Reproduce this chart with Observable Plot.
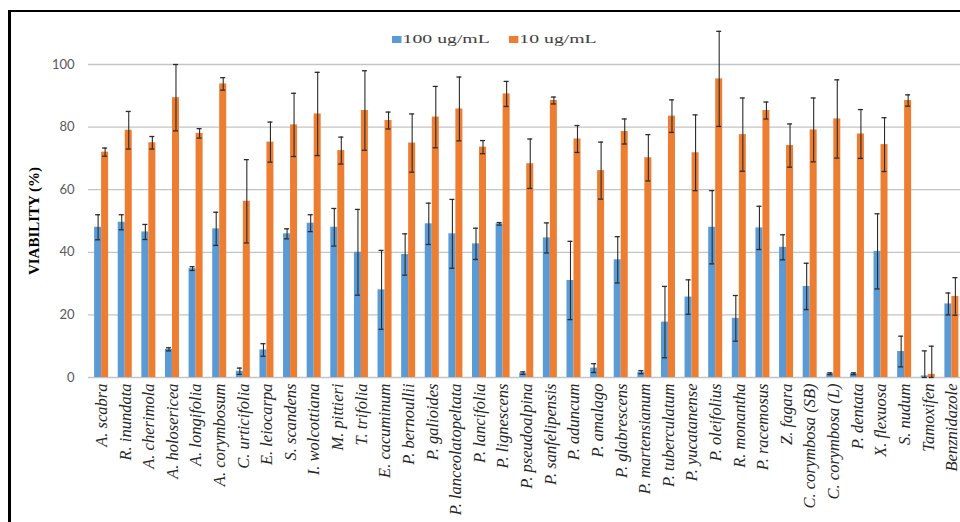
<!DOCTYPE html>
<html>
<head>
<meta charset="utf-8">
<script src="https://cdn.jsdelivr.net/npm/d3@7"></script>
<script src="https://cdn.jsdelivr.net/npm/@observablehq/plot@0.6"></script>
<style>
  body { margin: 0; background: #fff; }
  #wrap { position: relative; width: 960px; height: 522px; overflow: hidden; background: #fff; }
  #wrap svg { position: absolute; left: 0; top: 0; }
  #frame { position: absolute; left: 8px; top: 10px; width: 1000px; height: 600px;
           border-left: 3px solid #000; border-top: 2px solid #000; pointer-events: none; }
  #legend { position: absolute; left: 392px; top: 32px; display: flex; align-items: center;
            font: 12.5px "Liberation Serif", serif; color: #404040; white-space: nowrap;
            transform: scaleX(1.58); transform-origin: left center; }
  #legend .sw { display: inline-block; width: 5.7px; height: 6.5px; margin-right: 1px; }
  #legend .item { display: inline-flex; align-items: center; margin-right: 12px; }
  g[aria-label="y-axis tick label"] text { font: 13px Lato, sans-serif; fill: #595959; }
  g[aria-label="y-axis label"] text { font: bold 15px "Liberation Serif", serif; fill: #000; }
  g[aria-label="x-axis tick label"] text { font: italic 16.5px "Liberation Serif", serif; fill: #262626; }
</style>
</head>
<body>
<div id="wrap">
  <div id="legend">
    <span class="item"><span class="sw" style="background:#5b9bd5"></span><span id="l1"></span></span>
    <span class="item"><span class="sw" style="background:#ed7d31"></span><span id="l2"></span></span>
  </div>
</div>
<script>
const categories = [
  "A. scabra", "R. inundata", "A. cherimola", "A. holosericea", "A. longifolia",
  "A. corymbosum", "C. urticifolia", "E. leiocarpa", "S. scandens", "I. wolcottiana",
  "M. pittieri", "T. trifolia", "E. cacuminum", "P. bernoullii", "P. galioides",
  "P. lanceolatopeltata", "P. lancifolia", "P. lignescens", "P. pseudoalpina", "P. sanfelipensis",
  "P. aduncum", "P. amalago", "P. glabrescens", "P. martensianum", "P. tuberculatum",
  "P. yucatanense", "P. oleifolius", "R. monantha", "P. racemosus", "Z. fagara",
  "C. corymbosa (SB)", "C. corymbosa (L)", "P. dentata", "X. flexuosa", "S. nudum",
  "Tamoxifen", "Benznidazole"
];
const seriesNames = ["100 ug/mL", "10 ug/mL"];
// viability at 100 ug/mL and its error
const v100 = [48, 49.6, 46.5, 9, 34.8, 47.5, 2, 8.8, 45.9, 49.3,
              48, 40, 28, 39.3, 49.1, 45.9, 42.7, 49.1, 1.4, 44.6,
              31, 3, 37.6, 1.7, 17.7, 25.7, 48, 18.9, 47.8, 41.6,
              29.1, 1.2, 1.2, 40.3, 8.3, 0.5, 23.5];
const e100 = [4, 2.4, 2.4, 0.5, 0.6, 5.3, 1, 2, 1.6, 2.7,
              6, 13.7, 12.6, 6.6, 6.6, 11, 5, 0.4, 0.4, 4.8,
              12.5, 1.4, 7.4, 0.5, 11.4, 5.5, 11.7, 7.3, 6.9, 4,
              7.4, 0.3, 0.3, 12, 4.9, 8, 3.5];
// viability at 10 ug/mL and its error
const v10 = [72, 79, 75, 89.4, 78, 93.8, 56.3, 75.2, 80.7, 84.2,
             72.5, 85.3, 82.1, 74.9, 83.2, 85.8, 73.6, 90.6, 68.3, 88.5,
             76.2, 66.1, 78.6, 70.2, 83.5, 71.8, 95.4, 77.6, 85.3, 74.1,
             79.1, 82.6, 77.8, 74.4, 88.5, 1, 25.9];
const e10 = [1.3, 6, 2, 10.6, 1.5, 2, 13.3, 6.4, 10.1, 13.3,
             4.3, 12.7, 2.7, 9.3, 9.8, 10.2, 2.1, 4, 7.9, 1.1,
             4.3, 9.1, 4, 7.4, 5.2, 12.1, 15.2, 11.7, 2.7, 6.9,
             10.2, 12.5, 7.8, 8.6, 1.8, 9, 6];
const yTicks = [0, 20, 40, 60, 80, 100];

document.getElementById("l1").textContent = seriesNames[0];
document.getElementById("l2").textContent = seriesNames[1];

const blue = categories.map((c, i) => ({c, v: v100[i], lo: Math.max(0, v100[i] - e100[i]), hi: v100[i] + e100[i]}));
const orange = categories.map((c, i) => ({c, v: v10[i], lo: Math.max(0, v10[i] - e10[i]), hi: v10[i] + e10[i]}));

const errColor = "#2b2b2b";
const chart = Plot.plot({
  width: 960,
  height: 522,
  marginLeft: 88,
  marginRight: 0,
  marginTop: 64,
  marginBottom: 145,
  style: {background: "transparent"},
  x: {domain: categories, range: [84.5, 968], padding: 0.407, round: false, label: null},
  y: {domain: [0, 100], label: "VIABILITY (%)"},
  marks: [
    Plot.gridY(yTicks, {stroke: "#c4c4c4", strokeOpacity: 1, strokeWidth: 1.3}),
    Plot.barY(blue, {x: "c", y: "v", fill: "#5b9bd5", insetRight: 7}),
    Plot.barY(orange, {x: "c", y: "v", fill: "#ed7d31", insetLeft: 7}),
    Plot.ruleX(blue, {x: "c", y1: "lo", y2: "hi", dx: -3.5, stroke: errColor, strokeWidth: 1.1}),
    Plot.ruleX(orange, {x: "c", y1: "lo", y2: "hi", dx: 3.5, stroke: errColor, strokeWidth: 1.1}),
    Plot.tickY(blue, {x: "c", y: "hi", insetLeft: 1, insetRight: 8, stroke: errColor, strokeWidth: 1.3}),
    Plot.tickY(blue, {x: "c", y: "lo", insetLeft: 1, insetRight: 8, stroke: errColor, strokeWidth: 1.3}),
    Plot.tickY(orange, {x: "c", y: "hi", insetLeft: 8, insetRight: 1, stroke: errColor, strokeWidth: 1.3}),
    Plot.tickY(orange, {x: "c", y: "lo", insetLeft: 8, insetRight: 1, stroke: errColor, strokeWidth: 1.3}),
    Plot.axisY(yTicks, {tickSize: 0, tickPadding: 14, label: null}),
    Plot.axisY({ticks: [], tickSize: 0, label: "VIABILITY (%)", labelAnchor: "center", labelOffset: 60, labelArrow: false, dy: -18}),
    Plot.axisX({tickRotate: -90, tickSize: 0, tickPadding: 6, label: null})
  ]
});
const wrap = document.getElementById("wrap");
wrap.insertBefore(chart, wrap.firstChild);
const frame = document.createElement("div");
frame.id = "frame";
wrap.appendChild(frame);
</script>
</body>
</html>
